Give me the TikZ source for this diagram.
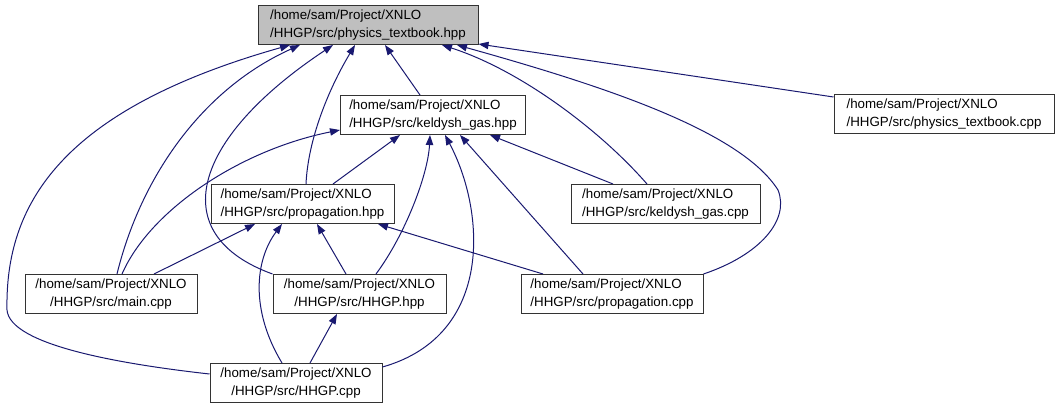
\documentclass[tikz,border=0pt]{standalone}
\usepackage{fontspec}
\setmainfont{Liberation Sans}
\usetikzlibrary{arrows.meta, calc}
\definecolor{midnight}{HTML}{191970}

\begin{document}
\begin{tikzpicture}[
  x=0.75pt, y=-0.75pt,
  font=\fontsize{10}{13}\selectfont,
  file/.style={draw=black!80, line width=0.75pt, fill=white, minimum height=29.25pt, inner sep=0pt, align=left},
  dep/.style ={-{Triangle[length=7.5pt, width=5.5pt]}, draw=midnight, line width=0.75pt},
]
\useasboundingbox (0,0) rectangle (1059,409);
% files, one row per level
\node[file, fill=black!25, minimum width=165pt] (ptb)   at (368,25)    {/home/sam/Project/XNLO\\/HHGP/src/physics\_textbook.hpp};
\node[file, minimum width=138.75pt]             (kgh)   at (433,115)   {/home/sam/Project/XNLO\\/HHGP/src/keldysh\_gas.hpp};
\node[file, minimum width=165pt]                (ptc)   at (944,114)   {/home/sam/Project/XNLO\\/HHGP/src/physics\_textbook.cpp};
\node[file, minimum width=137.25pt]             (prh)   at (302.5,204) {/home/sam/Project/XNLO\\/HHGP/src/propagation.hpp};
\node[file, minimum width=141.75pt]             (kgc)   at (665.5,204) {/home/sam/Project/XNLO\\/HHGP/src/keldysh\_gas.cpp};
\node[file, minimum width=129pt, align=center]    (main)  at (111,294)   {/home/sam/Project/XNLO\\/HHGP/src/main.cpp};
\node[file, minimum width=129.75pt, align=center] (hhgph) at (359.5,294) {/home/sam/Project/XNLO\\/HHGP/src/HHGP.hpp};
\node[file, minimum width=136.5pt]              (prc)   at (612,294)   {/home/sam/Project/XNLO\\/HHGP/src/propagation.cpp};
\node[file, minimum width=129pt, align=center]    (hhgpc) at (296,383)   {/home/sam/Project/XNLO\\/HHGP/src/HHGP.cpp};

% includes of physics_textbook.hpp
\draw[dep] ($(hhgpc.west)+(0,-9)$) .. controls (120,364) and (10,345) .. (7,310)
           .. controls (5,205) and (60,110) .. ($(ptb.south)+(-78,0)$);
\draw[dep] ($(main.north)+(6,0)$) .. controls (140,180) and (200,90) .. ($(ptb.south)+(-68,0)$);
\draw[dep] (hhgph.north west) .. controls (165,235) and (190,140) .. ($(ptb.south)+(-35,0)$);
\draw[dep] ($(prh.north)+(3.5,0)$) .. controls (308,140) and (328,90) .. ($(ptb.south)+(-13,0)$);
\draw[dep] ($(kgh.north)+(-13,0)$) -- ($(ptb.south)+(17,0)$);
\draw[dep] ($(kgc.north)+(-18.5,0)$) .. controls (600,130) and (520,70) .. ($(ptb.south)+(74,0)$);
\draw[dep] (prc.north east) .. controls (760,255) and (790,220) .. (778,190)
           .. controls (740,130) and (600,85) .. ($(ptb.south)+(89,0)$);
\draw[dep] ($(ptc.north west)+(0,3)$) -- ($(ptb.south east)+(0,-1)$);

% includes of keldysh_gas.hpp
\draw[dep] ($(main.north)+(11,0)$) .. controls (150,210) and (240,150) .. ($(kgh.west)+(0,15)$);
\draw[dep] ($(prh.north)+(30.5,0)$) -- ($(kgh.south)+(-33,0)$);
\draw[dep] ($(hhgph.north)+(16.5,0)$) .. controls (405,235) and (428,175) .. ($(kgh.south)+(-3,0)$);
\draw[dep] ($(hhgpc.east)+(0,-16)$) .. controls (495,335) and (485,210) .. ($(kgh.south)+(12,0)$);
\draw[dep] ($(prc.north)+(-29,0)$) -- ($(kgh.south)+(27,0)$);
\draw[dep] ($(kgc.north)+(-52.5,0)$) -- ($(kgh.south)+(57,0)$);

% includes of propagation.hpp
\draw[dep] ($(main.north)+(43,0)$) -- ($(prh.south)+(-47.5,0)$);
\draw[dep] ($(hhgpc.north)+(-14,0)$) .. controls (250,310) and (255,260) .. ($(prh.south)+(-20.5,0)$);
\draw[dep] ($(hhgph.north)+(-13.5,0)$) -- ($(prh.south)+(14.5,0)$);
\draw[dep] ($(prc.north)+(-69,0)$) -- ($(prh.south)+(75.5,0)$);

% includes of HHGP.hpp
\draw[dep] ($(hhgpc.north)+(14,0)$) -- ($(hhgph.south)+(-22.5,0)$);
\end{tikzpicture}
\end{document}
